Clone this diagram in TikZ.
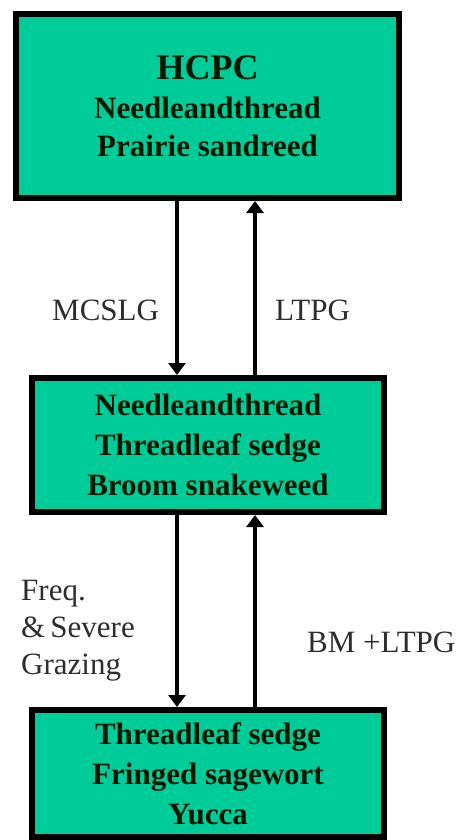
\documentclass[tikz,border=0pt]{standalone}
\usepackage{fontspec}
\setmainfont{Liberation Serif}
\usetikzlibrary{arrows.meta}
\definecolor{boxgreen}{RGB}{0,204,153}
\definecolor{labelgray}{RGB}{45,45,45}
\begin{document}
\begin{tikzpicture}[x=1pt,y=1pt,
  statebox/.style={draw=black, line width=6pt, fill=boxgreen, align=center,
    inner sep=0pt, font=\bfseries\fontsize{31}{40}\selectfont, text=black!90!green},
  arr/.style={line width=4pt, -{Triangle[width=17pt,length=12pt]}},
  lbl/.style={anchor=base west, inner sep=0pt, text=labelgray,
    font=\fontsize{31}{37}\selectfont, align=left}]
\useasboundingbox (0,0) rectangle (463,-840);
\node[statebox, minimum width=383pt, minimum height=184pt] (top) at (207.5,-106)
  {{\fontsize{36}{39}\selectfont HCPC}\\[-1pt]Needleandthread\\[-2pt]Prairie sandreed};
\node[statebox, minimum width=352pt, minimum height=134pt] (mid) at (208,-445)
  {Needleandthread\\Threadleaf sedge\\Broom snakeweed};
\node[statebox, minimum width=352pt, minimum height=127pt] (bot) at (208,-773.5)
  {Threadleaf sedge\\Fringed sagewort\\Yucca};
\coordinate (xd) at (177,0);
\coordinate (xu) at (255,0);
\draw[arr] (xd |- top.south) -- (xd |- mid.north);
\draw[arr] (xu |- mid.north) -- (xu |- top.south);
\draw[arr] (xd |- mid.south) -- (xd |- bot.north);
\draw[arr] (xu |- bot.north) -- (xu |- mid.south);
\node[lbl] (l1) at (52,-320) {MCSLG};
\node[lbl] (l2) at (275,-320) {LTPG};
\node[lbl, anchor=north west] (l3) at (21,-580) {Freq.\\\&\,Severe\\Grazing};
\node[lbl] (l4) at (307,-652) {BM +LTPG};
\end{tikzpicture}
\end{document}
